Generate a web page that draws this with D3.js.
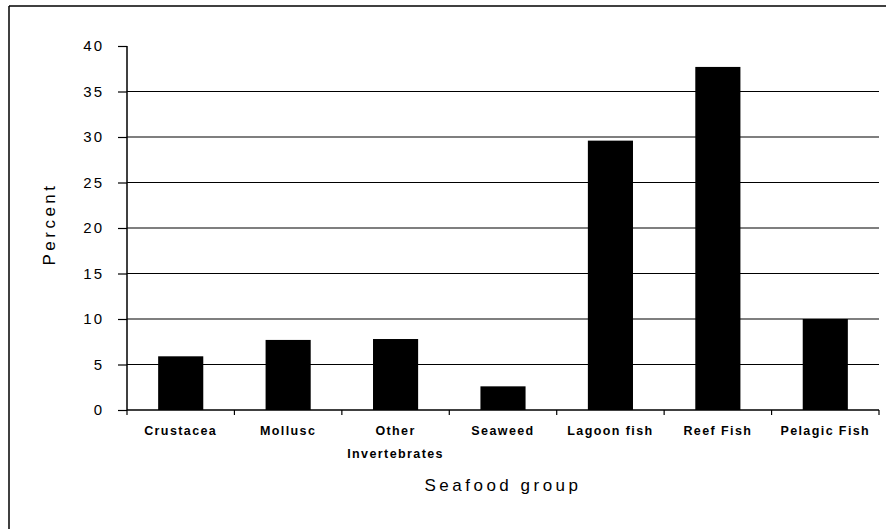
<!DOCTYPE html>
<html>
<head>
<meta charset="utf-8">
<script src="https://cdn.jsdelivr.net/npm/d3@7"></script>
<style>
  body { margin: 0; background: #fff; }
  svg { display: block; }
  .ylab { font-family: "Liberation Sans", Arial, sans-serif; font-size: 15px; letter-spacing: 2px; }
  .xlab { font-family: "Liberation Sans", Arial, sans-serif; font-size: 12.5px; font-weight: bold; letter-spacing: 1.4px; }
  .title { font-family: "Liberation Sans", Arial, sans-serif; font-size: 17px; letter-spacing: 3.5px; }
</style>
</head>
<body>
<div id="chart"></div>
<script>
// data
const categories = ['Crustacea', 'Mollusc', 'Other Invertebrates', 'Seaweed',
  'Lagoon fish', 'Reef Fish', 'Pelagic Fish'];
const percent = [5.9, 7.7, 7.8, 2.6, 29.6, 37.7, 10.0];
const yTicks = [0, 5, 10, 15, 20, 25, 30, 35, 40];

const W = 886, H = 529;
const plotL = 127, plotR = 879, plotT = 46, plotB = 410;

let svg = d3.select('#chart').append('svg')
  .attr('width', W)
  .attr('height', H);

// frame (only top and left visible in the scan)
svg.append('line')
  .attr('x1', 9).attr('x2', W).attr('y1', 6).attr('y2', 6)
  .attr('stroke', '#000').attr('stroke-width', 1.5);
svg.append('line')
  .attr('x1', 9).attr('x2', 9).attr('y1', 6).attr('y2', H)
  .attr('stroke', '#000').attr('stroke-width', 1.5);

let x = d3.scaleBand()
  .domain(categories)
  .range([plotL, plotR])
  .paddingInner(0.58)
  .paddingOuter(0.29);

let y = d3.scaleLinear()
  .domain([0, 40])
  .range([plotB, plotT]);

// gridlines (not at the top value)
svg.append('g')
  .selectAll('line')
  .data(yTicks.filter(d => d > 0 && d < 40))
  .join('line')
  .attr('x1', plotL).attr('x2', plotR)
  .attr('y1', d => y(d)).attr('y2', d => y(d))
  .attr('stroke', '#000').attr('stroke-width', 1.2);

// bars
svg.append('g')
  .selectAll('rect')
  .data(percent)
  .join('rect')
  .attr('x', (d, i) => x(categories[i]))
  .attr('y', d => y(d))
  .attr('width', x.bandwidth())
  .attr('height', d => y(0) - y(d))
  .attr('fill', '#000');

// y axis
let yAxis = svg.append('g')
  .attr('transform', 'translate(' + plotL + ',0)')
  .call(d3.axisLeft(y).tickValues(yTicks).tickSize(9).tickPadding(14));
yAxis.select('.domain').attr('stroke-width', 1.5).attr('d', 'M0,' + plotT + 'V' + plotB);
yAxis.selectAll('.tick line').attr('stroke-width', 1.2);
yAxis.selectAll('text').attr('class', 'ylab').attr('fill', '#000');

// x axis: ticks at category boundaries
let step = (plotR - plotL) / categories.length;
let xAxisG = svg.append('g');
xAxisG.append('line')
  .attr('x1', plotL).attr('x2', plotR)
  .attr('y1', plotB).attr('y2', plotB)
  .attr('stroke', '#000').attr('stroke-width', 1.5);
xAxisG.selectAll('line.tk')
  .data(d3.range(categories.length + 1))
  .join('line')
  .attr('class', 'tk')
  .attr('x1', i => plotL + i * step).attr('x2', i => plotL + i * step)
  .attr('y1', plotB).attr('y2', plotB + 5)
  .attr('stroke', '#000').attr('stroke-width', 1.2);

let xl = xAxisG.selectAll('text')
  .data(categories)
  .join('text')
  .attr('class', 'xlab')
  .attr('text-anchor', 'middle')
  .attr('x', d => x(d) + x.bandwidth() / 2)
  .attr('y', 435);
xl.each(function(d) {
  let t = d3.select(this);
  let cx = x(d) + x.bandwidth() / 2;
  if (d === 'Other Invertebrates') {
    t.append('tspan').attr('x', cx).text('Other');
    t.append('tspan').attr('x', cx).attr('dy', 23).text('Invertebrates');
  } else {
    t.text(d);
  }
});

// axis titles
svg.append('text')
  .attr('class', 'title')
  .attr('text-anchor', 'middle')
  .attr('x', (plotL + plotR) / 2)
  .attr('y', 491)
  .text('Seafood group');

svg.append('text')
  .attr('class', 'title')
  .attr('text-anchor', 'middle')
  .attr('transform', 'translate(55,224) rotate(-90)')
  .text('Percent');
</script>
</body>
</html>
